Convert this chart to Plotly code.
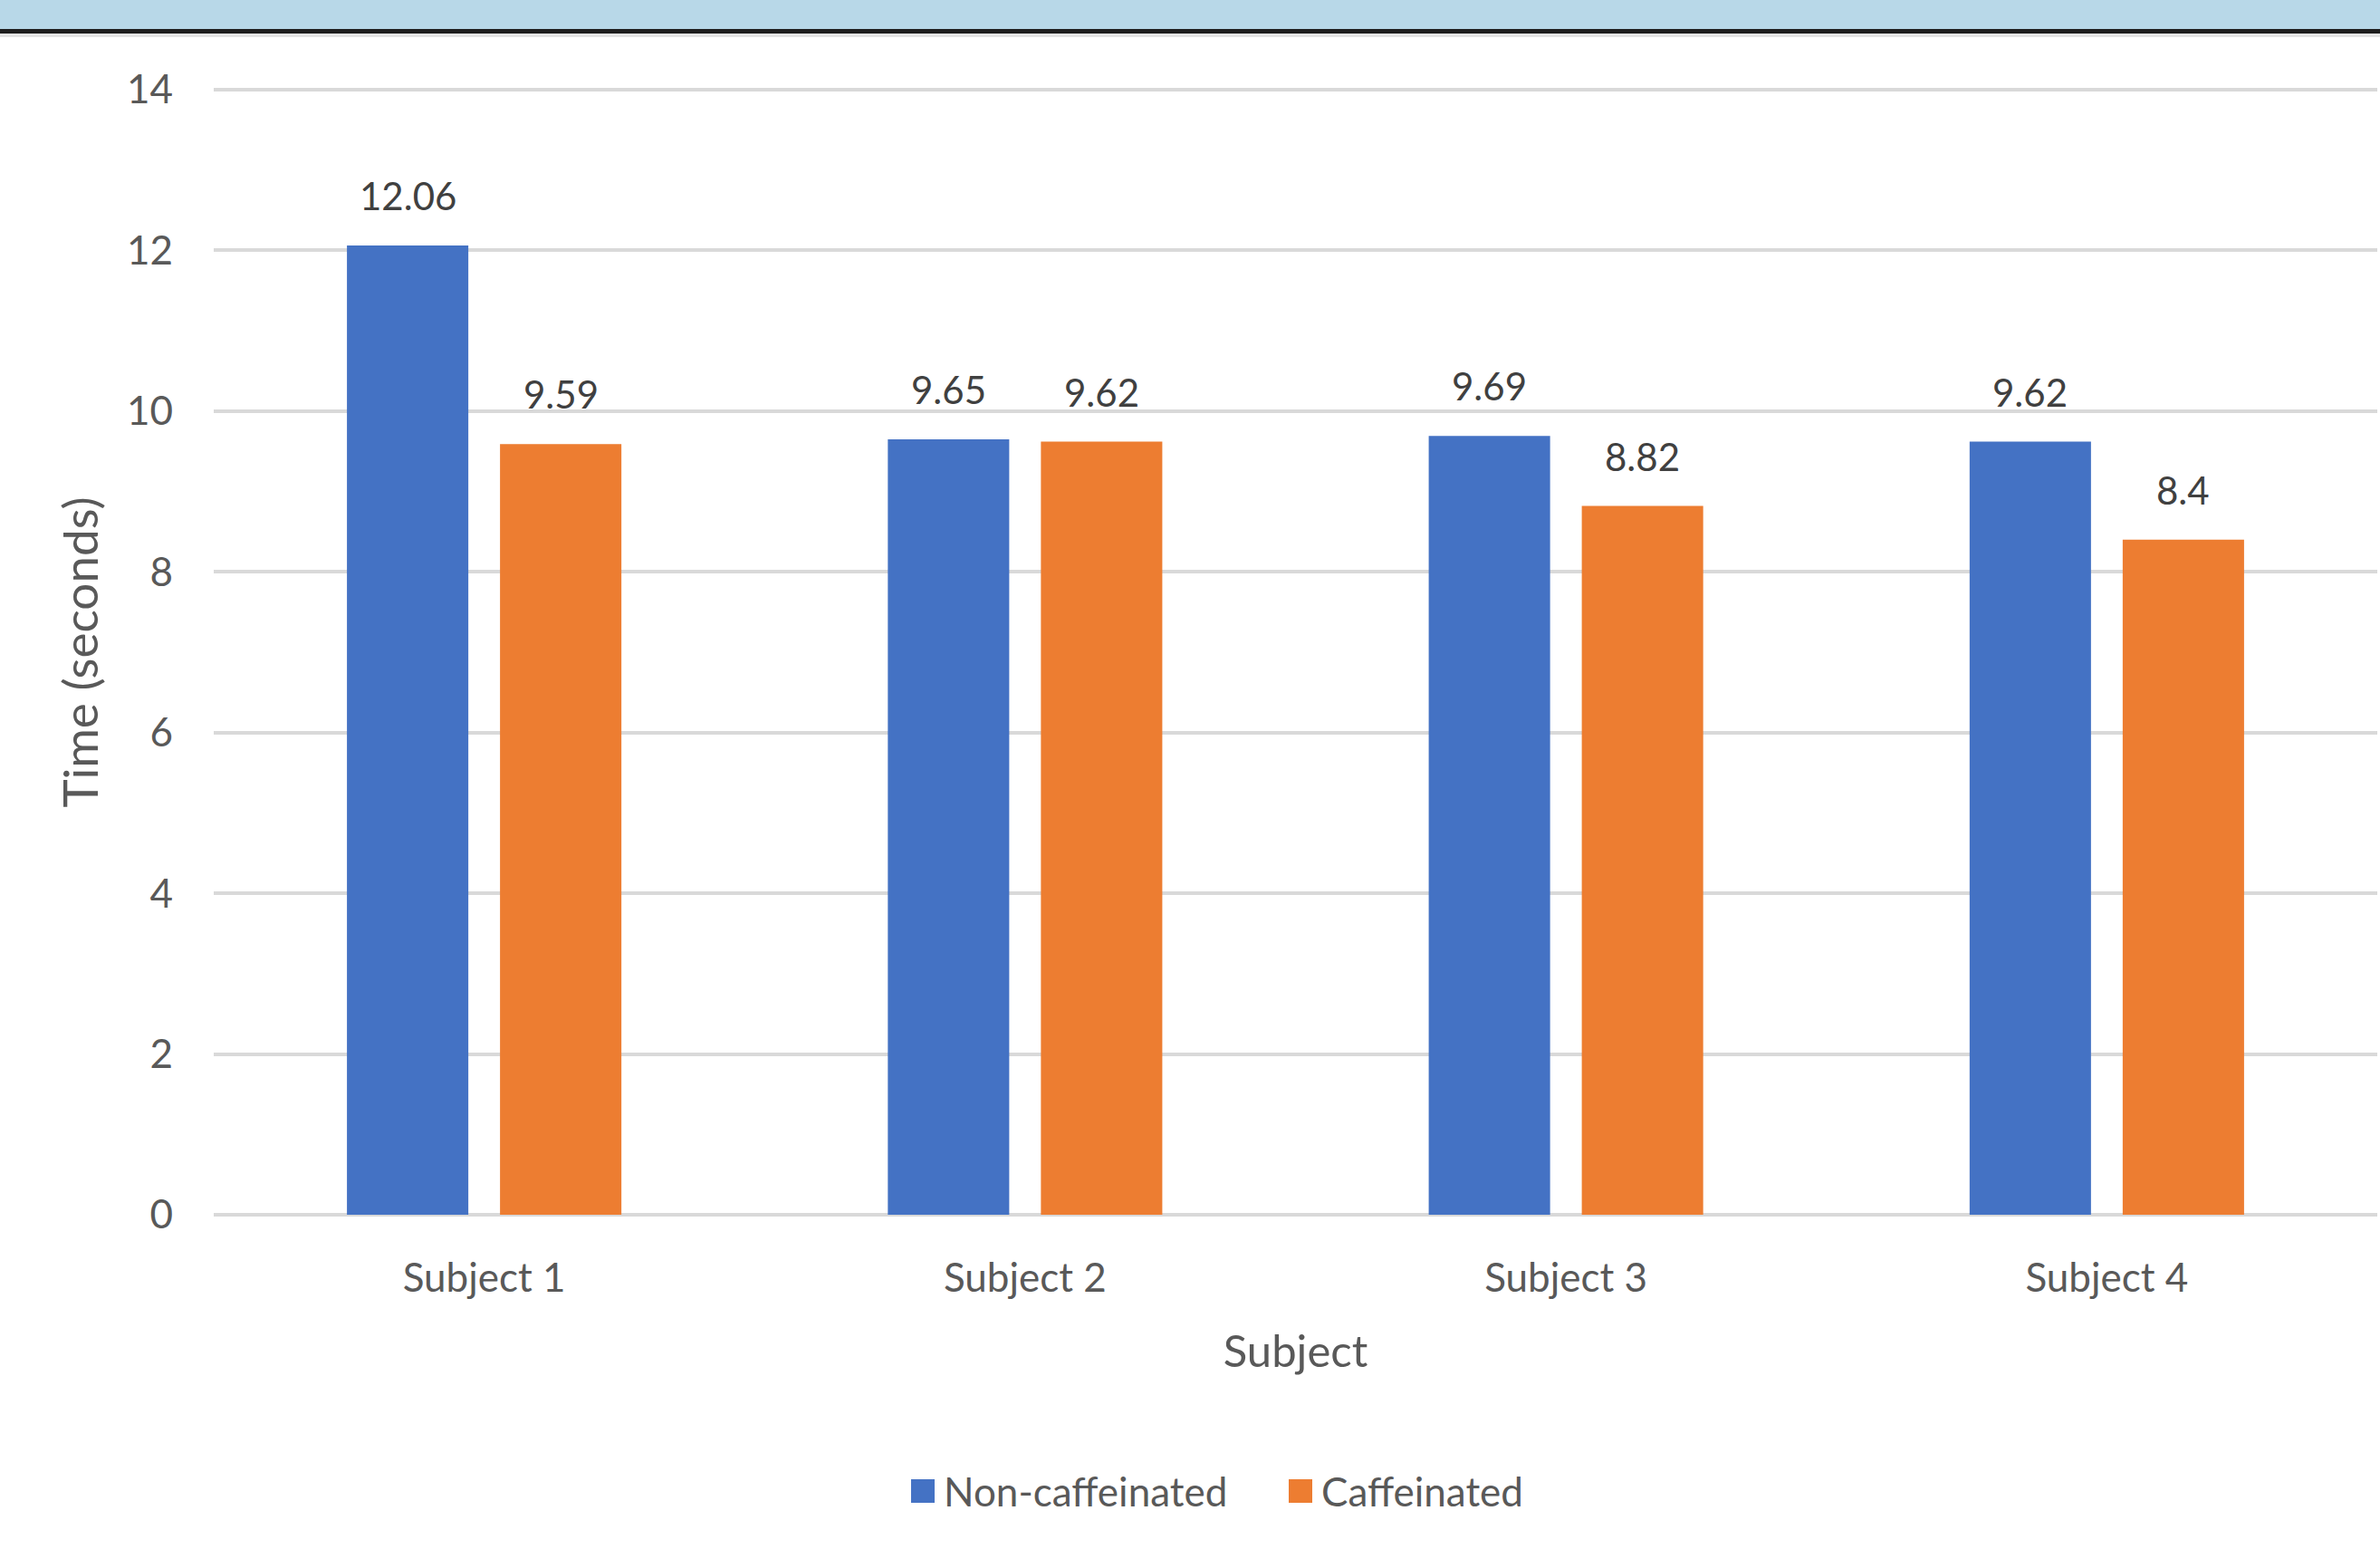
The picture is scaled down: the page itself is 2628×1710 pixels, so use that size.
import plotly.graph_objects as go

# ---- data ----
categories = ["Subject 1", "Subject 2", "Subject 3", "Subject 4"]
non_caffeinated = [12.06, 9.65, 9.69, 9.62]
caffeinated = [9.59, 9.62, 8.82, 8.4]
series_names = ["Non-caffeinated", "Caffeinated"]
y_ticks = [0, 2, 4, 6, 8, 10, 12, 14]

# ---- style ----
W, H = 2628, 1710
PAD = 6  # px of padding so the 0 and 14 gridlines are drawn
L, R, T, B = 236, 3, 99 - PAD, 369 - PAD
FONT = "Lato"
TXT = "#595959"
BLUE = "#4472C4"
ORANGE = "#ED7D31"
GRID = "#D9D9D9"

plot_w = W - L - R
plot_h = H - T - B
unit_px = (plot_h - 2 * PAD) / (y_ticks[-1] - y_ticks[0])
y_pad = PAD / unit_px


def px_x(p):
    return (p - L) / plot_w


def px_y(p):
    return (H - B - p) / plot_h


fig = go.Figure()
fig.add_trace(go.Bar(x=categories, y=non_caffeinated, name=series_names[0],
                     marker=dict(color=BLUE, line=dict(width=0)), showlegend=False))
fig.add_trace(go.Bar(x=categories, y=caffeinated, name=series_names[1],
                     marker=dict(color=ORANGE, line=dict(width=0)), showlegend=False))

# data labels
half_slot = 0.1415
annotations = []
for i, (a, b) in enumerate(zip(non_caffeinated, caffeinated)):
    for val, off in ((a, -half_slot), (b, half_slot)):
        annotations.append(dict(x=i + off, y=val, xref="x", yref="y",
                                text=f"{val:g}", showarrow=False,
                                yanchor="middle", yshift=55,
                                font=dict(family=FONT, size=42, color="#404040")))

# manual legend
leg_items = [(series_names[0], BLUE, 1006), (series_names[1], ORANGE, 1423)]
shapes = []
leg_cy = 1646
for name, col, sx in leg_items:
    shapes.append(dict(type="rect", xref="paper", yref="paper",
                       x0=px_x(sx), x1=px_x(sx + 26), y0=px_y(leg_cy + 13), y1=px_y(leg_cy - 13),
                       fillcolor=col, line=dict(width=0)))
    annotations.append(dict(x=px_x(sx + 34), y=px_y(leg_cy), xref="paper", yref="paper",
                            text=name, showarrow=False, xanchor="left", yanchor="middle",
                            font=dict(family=FONT, size=44, color=TXT)))

# top banner
shapes.append(dict(type="rect", xref="paper", yref="paper", x0=px_x(0), x1=px_x(W),
                   y0=px_y(33), y1=px_y(0), fillcolor="#B8D8E8", line=dict(width=0), layer="below"))
shapes.append(dict(type="rect", xref="paper", yref="paper", x0=px_x(0), x1=px_x(W),
                   y0=px_y(41), y1=px_y(35), fillcolor="#E4E4E4", line=dict(width=0), layer="below"))
shapes.append(dict(type="rect", xref="paper", yref="paper", x0=px_x(0), x1=px_x(W),
                   y0=px_y(37), y1=px_y(32), fillcolor="#1E1E1E", line=dict(width=0), layer="below"))

fig.update_layout(
    width=W, height=H,
    margin=dict(l=L, r=R, t=T, b=B, autoexpand=False),
    paper_bgcolor="white", plot_bgcolor="white",
    barmode="group", bargap=0.434, bargroupgap=0.207,
    font=dict(family=FONT, color=TXT, size=44),
    annotations=annotations, shapes=shapes,
    xaxis=dict(
        title=dict(text="Subject", font=dict(family=FONT, size=49, color=TXT), standoff=40),
        showgrid=False, zeroline=False, showline=False, ticks="",
        tickfont=dict(family=FONT, size=44, color=TXT), ticklabelstandoff=34,
        automargin=False,
    ),
    yaxis=dict(
        title=dict(text="Time (seconds)", font=dict(family=FONT, size=53, color=TXT), standoff=14),
        range=[y_ticks[0] - y_pad, y_ticks[-1] + y_pad], tickvals=y_ticks,
        showgrid=True, gridcolor=GRID, gridwidth=4,
        zeroline=False, showline=False, ticks="",
        tickfont=dict(family=FONT, size=44, color=TXT), ticklabelstandoff=44,
        automargin=False,
    ),
)

fig.write_html("out.html")
